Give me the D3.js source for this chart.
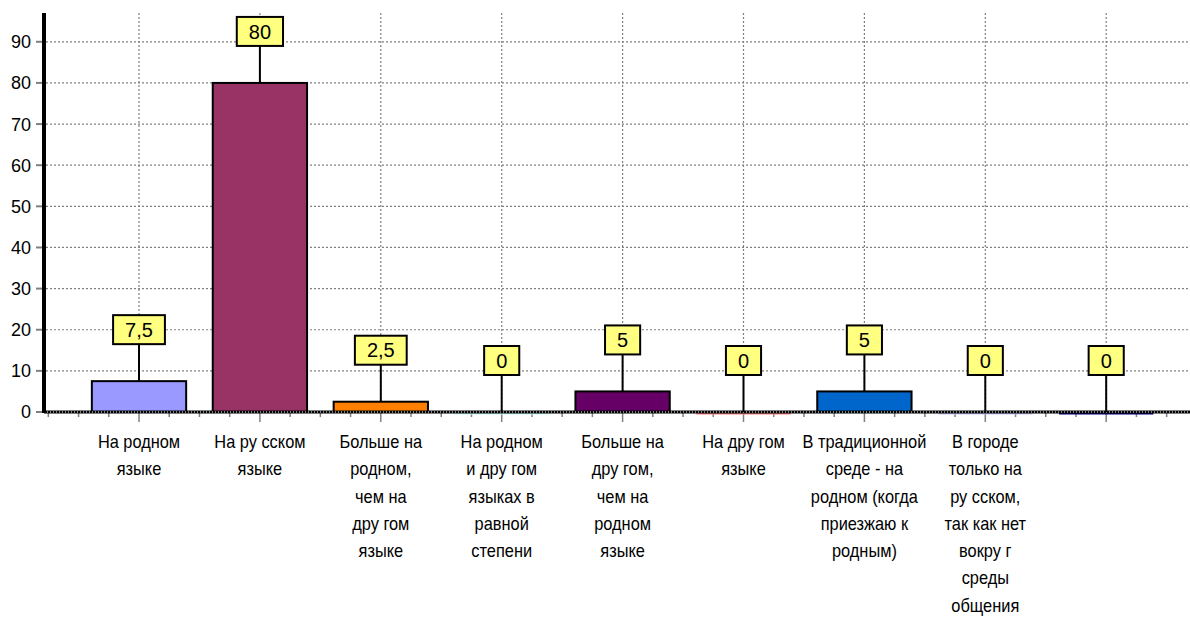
<!DOCTYPE html>
<html>
<head>
<meta charset="utf-8">
<script src="https://cdn.jsdelivr.net/npm/d3@7"></script>
<style>
  html, body { margin: 0; padding: 0; background: #fff; }
  svg { display: block; font-family: "Liberation Sans", Arial, sans-serif; }
</style>
</head>
<body>
<svg id="chart" width="1190" height="621"></svg>
<script>
// Category labels, one array of wrapped lines per bar
const categories = [
  ["На родном", "языке"],
  ["На ру сском", "языке"],
  ["Больше на", "родном,", "чем на", "дру гом", "языке"],
  ["На родном", "и дру гом", "языках  в", "равной", "степени"],
  ["Больше на", "дру гом,", "чем на", "родном", "языке"],
  ["На дру гом", "языке"],
  ["В традиционной", "среде - на", "родном (когда", "приезжаю к", "родным)"],
  ["В городе", "только на", "ру сском,", "так как нет", "вокру г", "среды", "общения"],
  [""]
];
const values = [7.5, 80, 2.5, 0, 5, 0, 5, 0, 0];
const valueLabels = ["7,5", "80", "2,5", "0", "5", "0", "5", "0", "0"];
const colors = ["#9999ff", "#993366", "#ff8000", "#ccffff", "#660066",
                "#ff8080", "#0066cc", "#ccccff", "#000080"];
const yTicks = [0, 10, 20, 30, 40, 50, 60, 70, 80, 90];

const svg = d3.select("#chart");
const W = 1190;
const axisX = 44;

const ids = d3.range(values.length);
const x = d3.scaleBand().domain(ids).range([78.55, 1166.65])
  .paddingInner(0.22).paddingOuter(0.11);
const y = d3.scaleLinear().domain([0, 97]).range([412, 13]);
const step = x.step();
const cx = i => x(i) + x.bandwidth() / 2;

// horizontal gridlines
svg.append("g").selectAll("line").data(yTicks.filter(t => t > 0)).join("line")
  .attr("x1", axisX + 2).attr("x2", W)
  .attr("y1", d => y(d)).attr("y2", d => y(d))
  .attr("stroke", "#808080").attr("stroke-width", 1.2)
  .attr("stroke-dasharray", "2,2");

// vertical gridlines at category centres
svg.append("g").selectAll("line").data(ids).join("line")
  .attr("x1", d => cx(d)).attr("x2", d => cx(d))
  .attr("y1", y(97)).attr("y2", y(0))
  .attr("stroke", "#808080").attr("stroke-width", 1.2)
  .attr("stroke-dasharray", "2,2");

// y axis ticks and labels
const yAxis = svg.append("g");
yAxis.selectAll("line").data(yTicks).join("line")
  .attr("x1", axisX - 8).attr("x2", axisX + 2)
  .attr("y1", d => y(d)).attr("y2", d => y(d))
  .attr("stroke", "#808080").attr("stroke-width", 2);
yAxis.selectAll("text").data(yTicks).join("text")
  .attr("x", axisX - 13).attr("y", d => y(d))
  .attr("dy", "0.36em").attr("text-anchor", "end")
  .attr("font-size", 18).attr("fill", "#000")
  .text(d => d);

// x axis ticks: quarter-step minor ticks, longer ticks at category centres
const xTicks = [];
for (let k = -3; ; k++) {
  const px = cx(0) + k * step / 4;
  if (px > W) break;
  xTicks.push({ px, major: ((k % 4) + 4) % 4 === 0 });
}
svg.append("g").selectAll("line").data(xTicks).join("line")
  .attr("x1", d => d.px).attr("x2", d => d.px)
  .attr("y1", y(0)).attr("y2", d => y(0) + (d.major ? 10 : 5))
  .attr("stroke", "#808080").attr("stroke-width", 1.5);

// bars
const bars = svg.append("g");
bars.selectAll("rect").data(ids.filter(i => values[i] > 0)).join("rect")
  .attr("x", i => x(i)).attr("width", x.bandwidth())
  .attr("y", i => y(values[i])).attr("height", i => y(0) - y(values[i]))
  .attr("fill", i => colors[i]).attr("stroke", "#000").attr("stroke-width", 2);

// baseline
svg.append("line")
  .attr("x1", axisX).attr("x2", W).attr("y1", y(0)).attr("y2", y(0))
  .attr("stroke", "#000").attr("stroke-width", 3);
svg.append("line")
  .attr("x1", axisX).attr("x2", W).attr("y1", y(0)).attr("y2", y(0))
  .attr("stroke", "#fff").attr("stroke-width", 1)
  .attr("stroke-dasharray", "1,2");

// zero-valued bars show as a coloured line just under the baseline
bars.selectAll("line").data(ids.filter(i => values[i] === 0)).join("line")
  .attr("x1", i => x(i)).attr("x2", i => x(i) + x.bandwidth())
  .attr("y1", y(0) + 1.5).attr("y2", y(0) + 1.5)
  .attr("stroke", i => colors[i]).attr("stroke-width", 2);

// y axis line
svg.append("line")
  .attr("x1", axisX).attr("x2", axisX).attr("y1", y(97)).attr("y2", y(0) + 1)
  .attr("stroke", "#000").attr("stroke-width", 4);

// value labels: yellow boxes with leader lines
const lead = 37, boxH = 29;
const lbl = svg.append("g").selectAll("g").data(ids).join("g");
lbl.append("line")
  .attr("x1", i => cx(i)).attr("x2", i => cx(i))
  .attr("y1", i => y(values[i]) - lead).attr("y2", i => y(values[i]))
  .attr("stroke", "#000").attr("stroke-width", 2);
lbl.append("rect")
  .attr("y", i => y(values[i]) - lead - boxH).attr("height", boxH)
  .attr("fill", "#ffff80").attr("stroke", "#000").attr("stroke-width", 2);
const texts = lbl.append("text")
  .attr("x", i => cx(i)).attr("y", i => y(values[i]) - lead - boxH / 2)
  .attr("dy", "0.36em").attr("text-anchor", "middle")
  .attr("font-size", 20).attr("fill", "#000")
  .text(i => valueLabels[i]);
texts.each(function (i) {
  const w = this.getComputedTextLength() + 24;
  d3.select(this.parentNode).select("rect")
    .attr("x", cx(i) - w / 2).attr("width", w);
});

// category labels, slightly condensed horizontally
const squeeze = 0.91;
const cat = svg.append("g").selectAll("text").data(ids).join("text")
  .attr("transform", i => `translate(${cx(i)},0) scale(${squeeze},1)`)
  .attr("text-anchor", "middle").attr("font-size", 18).attr("fill", "#000");
cat.selectAll("tspan").data(i => categories[i]).join("tspan")
  .attr("x", 0)
  .attr("y", (d, k) => 448 + k * 27.3)
  .text(d => d);
</script>
</body>
</html>
